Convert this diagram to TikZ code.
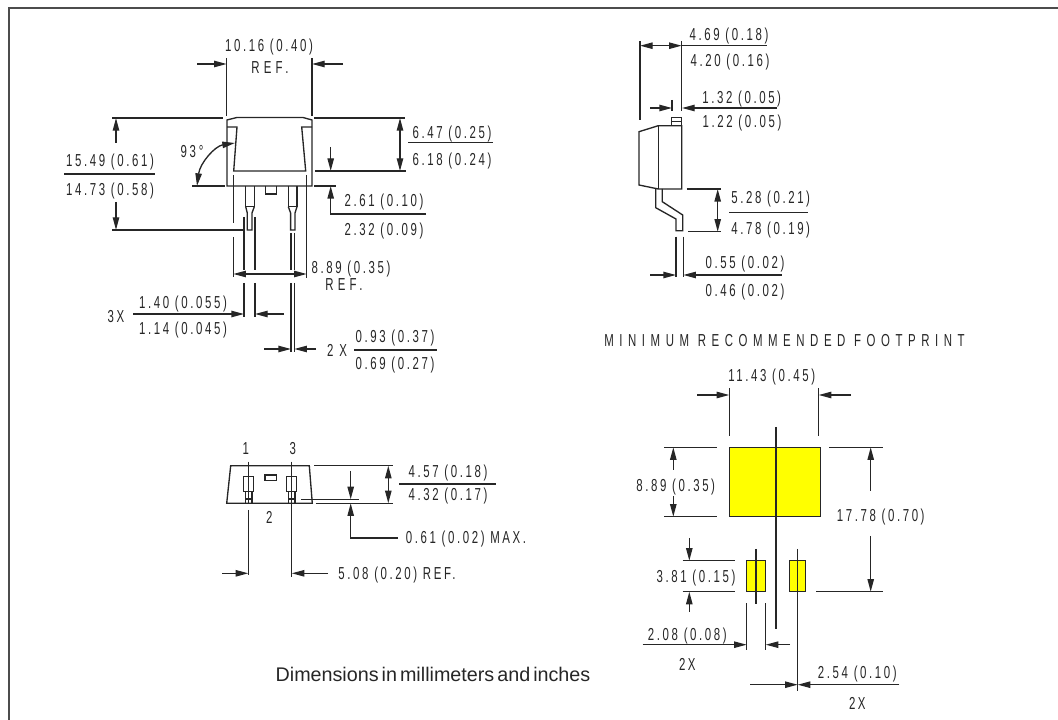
\documentclass[tikz,border=0pt]{standalone}
\usepackage{fontspec}
\usetikzlibrary{arrows.meta}
\setmainfont{Liberation Sans}
\newfontfamily\dimf[FakeStretch=0.66,LetterSpace=15]{Liberation Sans}
\newfontfamily\capsf[FakeStretch=0.66,LetterSpace=32]{Liberation Sans}
\newfontfamily\reff[FakeStretch=0.66,LetterSpace=24]{Liberation Sans}
\newfontfamily\notef[WordSpace=0.55]{Liberation Sans}
\definecolor{padyellow}{RGB}{255,255,0}
\tikzset{
  ln/.style={line width=1pt,draw=black!85},
  tip/.style={ln,-{Triangle[length=9.5pt,width=4.8pt]}},
  tips/.style={ln,{Triangle[length=9.5pt,width=4.8pt]}-{Triangle[length=9.5pt,width=4.8pt]}},
  dim/.style={inner sep=0pt,anchor=center,text height=9.2pt,text depth=0pt,text=black!85,font=\dimf\fontsize{13pt}{15pt}\selectfont},
  capt/.style={dim,font=\capsf\fontsize{13pt}{15pt}\selectfont},
  reft/.style={dim,font=\reff\fontsize{13pt}{15pt}\selectfont},
  pad/.style={ln,fill=padyellow},
  frame/.style={line width=1.1pt,draw=black!70}
}
\begin{document}
\begin{tikzpicture}[x=0.75pt,y=-0.75pt]
\useasboundingbox (0,0) rectangle (1058,720);
% frame
\draw[frame] (9,720) -- (9,8) -- (1058,8);

% ---------- top-left view: body
\draw[ln] (227,186) -- (227,120) -- (237,117.5) -- (303,117.5) -- (312,120) -- (312,186) -- cycle;
\draw[ln] (227,127) -- (237,127) -- (233.7,171) -- (305.7,171) -- (301.7,127) -- (312,127);
\draw[ln] (265.7,186) -- (265.7,194) -- (276.3,194) -- (276.3,186);
% pins
\draw[ln] (245.7,186) -- (245.7,206.7) -- (254.3,206.7) -- (254.3,186);
\draw[ln] (245.7,206.7) -- (247.3,213) -- (247.3,230) -- (252,230) -- (252,213) -- (254.3,206.7);
\draw[ln] (288.3,186) -- (288.3,206.7) -- (297,206.7) -- (297,186);
\draw[ln] (288.3,206.7) -- (290.6,213) -- (290.6,230) -- (295,230) -- (295,213) -- (297,206.7);
% 10.16
\draw[ln] (226.7,58) -- (226.7,116);
\draw[ln] (312,58) -- (312,116);
\draw[tip] (197,64) -- (226.7,64);
\draw[tip] (343,64) -- (312,64);
\node[dim] (a1) at (269,45) {10.16 (0.40)};
\node[reft] (a2) at (270,67) {REF.};
% 15.49
\draw[ln] (112,118) -- (223,118);
\draw[ln] (112,230) -- (245,230);
\draw[tip] (116,143) -- (116,118);
\draw[tip] (116,202) -- (116,230);
\draw[ln] (64,174) -- (155,174);
\node[dim] (b1) at (110,160) {15.49 (0.61)};
\node[dim] (b2) at (110,189) {14.73 (0.58)};
% 93 deg
\draw[ln] (192,186) -- (225,186);
\draw[tips] (235,143) .. controls (215,146) and (200,163) .. (197,186);
\node[dim] (c1) at (192,151) {93\,°};
% 6.47
\draw[ln] (314,118) -- (405,118);
\draw[ln] (315,171) -- (405.7,171);
\draw[tips] (400,118) -- (400,171);
\draw[ln] (408,142.7) -- (492.7,142.7);
\node[dim] (d1) at (452,132) {6.47 (0.25)};
\node[dim] (d2) at (452,159) {6.18 (0.24)};
% 2.61
\draw[ln] (314,186) -- (336,186);
\draw[tip] (330.7,147) -- (330.7,171);
\draw[ln] (426,214) -- (330.7,214) -- (330.7,205);
\draw[tip] (330.7,210) -- (330.7,186);
\node[dim] (e1) at (384,200) {2.61 (0.10)};
\node[dim] (e2) at (384,229) {2.32 (0.09)};
% 8.89
\draw[ln] (233.3,175) -- (233.3,223);
\draw[ln] (233.3,237) -- (233.3,277);
\draw[ln] (306.7,175) -- (306.7,278);
\draw[tips] (233.3,274) -- (306.7,274);
\node[dim] (f1) at (351,267) {8.89 (0.35)};
\node[reft] (f2) at (344,284) {REF.};
% 1.40
\draw[ln] (244,217) -- (244,270);
\draw[ln] (244,283) -- (244,317);
\draw[ln] (255,217) -- (255,270);
\draw[ln] (255,283) -- (255,317);
\draw[tip] (133,314) -- (244,314);
\draw[tip] (284,314) -- (255,314);
\node[dim] (g0) at (116,316) {3X};
\node[dim] (g1) at (183,302) {1.40 (0.055)};
\node[dim] (g2) at (183,328) {1.14 (0.045)};
% 0.93
\draw[ln] (291,233) -- (291,270);
\draw[ln] (291,283) -- (291,352);
\draw[ln] (294.3,233) -- (294.3,270);
\draw[ln] (294.3,283) -- (294.3,352);
\draw[tip] (264,349) -- (291,349);
\draw[tip] (316,349) -- (294.3,349);
\draw[ln] (354,350) -- (437,350);
\node[dim] (h0) at (337,350) {2 X};
\node[dim] (h1) at (395,336) {0.93 (0.37)};
\node[dim] (h2) at (395,363) {0.69 (0.27)};

% ---------- top-right side view
\draw[ln] (639,131.7) -- (658.3,125.7) -- (681.7,125.7) -- (681.7,189) -- (658.3,189) -- (639,185) -- cycle;
\draw[ln] (658.3,125.7) -- (658.3,189);
\draw[ln] (671.7,125.7) -- (671.7,117.3) -- (681.7,117.3) -- (681.7,125.7);
\draw[ln] (671.7,121.5) -- (681.7,121.5);
\draw[ln] (655.7,189) -- (655.7,207.7) -- (676,219) -- (676,230.7) -- (682.7,230.7) -- (682.7,215) -- (662.3,201.7) -- (662.3,189);
% 4.69
\draw[ln] (640,41) -- (640,120);
\draw[ln] (681.7,41) -- (681.7,110.7);
\draw[tips] (640,45.7) -- (681.7,45.7);
\draw[ln] (681.7,45.7) -- (767,45.7);
\node[dim] (i1) at (729,34) {4.69 (0.18)};
\node[dim] (i2) at (730,60.7) {4.20 (0.16)};
% 1.32
\draw[ln] (672,100) -- (672,111);
\draw[tip] (650,108) -- (672,108);
\draw[tip] (777,108) -- (682,108);
\node[dim] (j1) at (741.7,97) {1.32 (0.05)};
\node[dim] (j2) at (742,121.7) {1.22 (0.05)};
% 5.28
\draw[ln] (686.7,189) -- (721,189);
\draw[ln] (688,231.7) -- (721,231.7);
\draw[tips] (717.7,189) -- (717.7,231.7);
\draw[ln] (729,212.3) -- (808,212.3);
\node[dim] (k1) at (770.7,197.7) {5.28 (0.21)};
\node[dim] (k2) at (770.7,228) {4.78 (0.19)};
% 0.55
\draw[ln] (676,236.7) -- (676,276.7);
\draw[ln] (683.3,236.7) -- (683.3,276.7);
\draw[tip] (650,275) -- (676,275);
\draw[tip] (781.7,275) -- (683.3,275);
\node[dim] (l1) at (745,262) {0.55 (0.02)};
\node[dim] (l2) at (745,290) {0.46 (0.02)};

\node[capt] (m) at (784.5,340) {MINIMUM RECOMMENDED FOOTPRINT};

% ---------- bottom-left view
\draw[ln] (230.7,465.7) -- (309.3,465.7) -- (312.3,503.3) -- (226.7,503.3) -- cycle;
\draw[ln] (265,475) rectangle (276.7,480.7);
\draw[ln] (243.7,476.7) rectangle (253.3,491.7);
\draw[ln] (245.7,491.7) -- (245.7,503.3);
\draw[ln] (252,491.7) -- (252,503.3);
\draw[ln] (245.7,499) -- (252,499);
\draw[ln] (286.7,476.7) rectangle (296.3,491.7);
\draw[ln] (288.7,491.7) -- (288.7,503.3);
\draw[ln] (295,491.7) -- (295,503.3);
\draw[ln] (288.7,499) -- (295,499);
\draw[ln] (248.3,461.7) -- (248.3,503);
\draw[ln] (248.3,510) -- (248.3,575);
\draw[ln] (291.7,461.7) -- (291.7,576.7);
\node[dim] (n1) at (245.7,448) {1};
\node[dim] (n3) at (292.7,448) {3};
\node[dim] (n2) at (269.3,517.7) {2};
% 4.57
\draw[ln] (314,465.7) -- (392.7,465.7);
\draw[ln] (315.7,503.3) -- (392.7,503.3);
\draw[tips] (388.3,465.7) -- (388.3,503.3);
\draw[ln] (399,484) -- (496,484);
\node[dim] (o1) at (448,471) {4.57 (0.18)};
\node[dim] (o2) at (448,494) {4.32 (0.17)};
% 0.61
\draw[ln] (301,499.3) -- (359,499.3);
\draw[tip] (350.7,471) -- (350.7,499.3);
\draw[ln] (397.7,538) -- (350.7,538) -- (350.7,525);
\draw[tip] (350.7,530) -- (350.7,503.3);
\node[dim] (p) at (466,537) {0.61 (0.02) MAX.};
% 5.08
\draw[tip] (222,573.3) -- (248.3,573.3);
\draw[tip] (328,573.3) -- (291.7,573.3);
\node[dim] (q) at (397,573) {5.08 (0.20) REF.};

\node[inner sep=0pt,anchor=center,font=\notef\fontsize{14.8pt}{17pt}\selectfont,text=black!85] (r) at (433,674) {Dimensions in millimeters and inches};

% ---------- footprint
\draw[pad] (729.3,447.3) rectangle (820.3,516.7);
\draw[pad] (746.7,560.7) rectangle (765.7,591.7);
\draw[pad] (789.3,560.7) rectangle (805.7,591.7);
\draw[ln] (776,427) -- (776,629.3);
\draw[ln] (756,549) -- (756,604.3);
\draw[ln] (797.7,549) -- (797.7,691);
% 11.43
\draw[ln] (729.3,388) -- (729.3,435.7);
\draw[ln] (818.7,388) -- (818.7,436);
\draw[tip] (697,395) -- (729.3,395);
\draw[tip] (851,395) -- (818.7,395);
\node[dim] (s) at (771.7,375.7) {11.43 (0.45)};
% 8.89
\draw[ln] (664,447.3) -- (716.7,447.3);
\draw[ln] (664,516.7) -- (716.7,516.7);
\draw[tip] (673.3,470) -- (673.3,447.3);
\draw[tip] (673.3,496) -- (673.3,516.7);
\node[dim] (t) at (675.7,485.7) {8.89 (0.35)};
% 17.78
\draw[ln] (829,447.3) -- (883,447.3);
\draw[ln] (816,591.7) -- (883,591.7);
\draw[tip] (870.7,490.7) -- (870.7,447.3);
\draw[tip] (870.7,536) -- (870.7,591.7);
\node[dim] (u) at (880.7,515.7) {17.78 (0.70)};
% 3.81
\draw[ln] (682.7,560.7) -- (735.3,560.7);
\draw[ln] (682.7,591.7) -- (735.3,591.7);
\draw[tip] (689.3,538) -- (689.3,560.7);
\draw[tip] (689.3,611.7) -- (689.3,591.7);
\node[dim] (v) at (696,576) {3.81 (0.15)};
% 2.08
\draw[ln] (746.7,603.3) -- (746.7,650);
\draw[ln] (765.7,603.3) -- (765.7,650);
\draw[tip] (642.7,644.7) -- (746.7,644.7);
\draw[tip] (790,644.7) -- (765.7,644.7);
\node[dim] (w1) at (687.3,634.7) {2.08 (0.08)};
\node[dim] (w2) at (687.3,664.3) {2X};
% 2.54
\draw[tip] (750,684.7) -- (797.7,684.7);
\draw[tip] (899.3,684.7) -- (797.7,684.7);
\node[dim] (y1) at (857.3,672.7) {2.54 (0.10)};
\node[dim] (y2) at (857.3,703.3) {2X};
\end{tikzpicture}
\end{document}
